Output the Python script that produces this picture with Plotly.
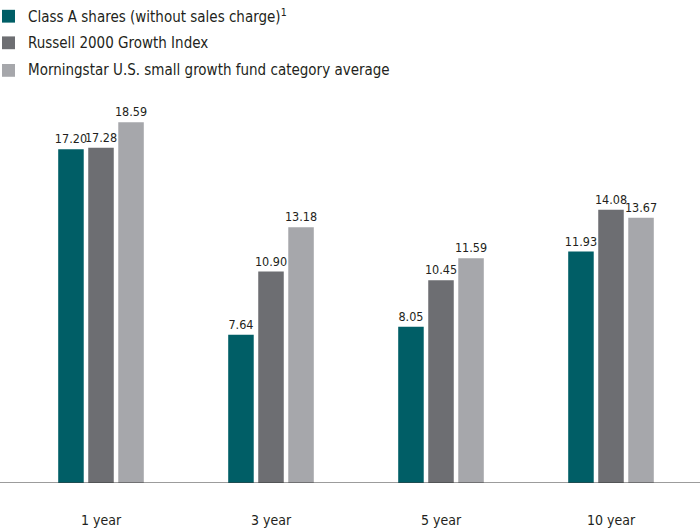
import plotly.graph_objects as go

categories = ["1 year", "3 year", "5 year", "10 year"]
series_names = [
    "Class A shares (without sales charge)<sup>1</sup>",
    "Russell 2000 Growth Index",
    "Morningstar U.S. small growth fund category average",
]
class_a = [17.20, 7.64, 8.05, 11.93]
russell = [17.28, 10.90, 10.45, 14.08]
morningstar = [18.59, 13.18, 11.59, 13.67]
colors = ["#005E66", "#6D6E72", "#A6A7AB"]

FONT = "DejaVu Sans Condensed, Roboto Condensed, Liberation Sans Narrow, Roboto, sans-serif"

fig = go.Figure()
for i, (name, vals, col) in enumerate(zip(series_names, [class_a, russell, morningstar], colors)):
    fig.add_trace(go.Bar(
        x=categories, y=vals, name=name, marker=dict(color=col, line=dict(width=0)),
        text=[f"{v:.2f}" for v in vals], textposition="outside",
        textfont=dict(family=FONT, size=12.5, color="#231F20"),
        cliponaxis=False, constraintext="none", showlegend=False,
        hoverinfo="skip",
    ))

W, H = 700, 532
ml, mr, mt, mb = 16, 4, 95, 43
pw = W - ml - mr
ph = H - mt - mb

shapes = [dict(type="line", xref="paper", yref="y", x0=-ml / pw, x1=1 + mr / pw,
               y0=0, y1=0, line=dict(color="#3A3A3A", width=1.2), layer="above")]
annotations = []
legend_y = [15, 42, 70]  # pixel centres from top
for name, col, yc in zip(series_names, colors, legend_y):
    y_paper = 1 + (mt - yc) / ph
    s = 6.5 / ph
    shapes.append(dict(type="rect", xref="paper", yref="paper",
                       x0=(2 - ml) / pw, x1=(15 - ml) / pw,
                       y0=y_paper - s, y1=y_paper + s,
                       fillcolor=col, line=dict(width=0)))
    annotations.append(dict(xref="paper", yref="paper", x=(26 - ml) / pw, y=y_paper,
                            xanchor="left", yanchor="middle", showarrow=False,
                            text=name, font=dict(family=FONT, size=15, color="#231F20")))

fig.update_layout(
    width=W, height=H,
    margin=dict(l=ml, r=mr, t=mt, b=mb),
    paper_bgcolor="white", plot_bgcolor="white",
    barmode="group", bargap=0.47, bargroupgap=0.15,
    font=dict(family=FONT, size=15, color="#231F20"),
    showlegend=False,
    xaxis=dict(showline=False, showgrid=False, ticks="", zeroline=False,
               tickfont=dict(family=FONT, size=14, color="#231F20"),
               ticklabelstandoff=27),
    yaxis=dict(range=[0, 20], visible=False, showgrid=False, zeroline=False),
    shapes=shapes,
    annotations=annotations,
)

fig.write_html("out.html", config={"displayModeBar": False},
               post_script="document.body.style.margin='0';document.body.style.padding='0';")
